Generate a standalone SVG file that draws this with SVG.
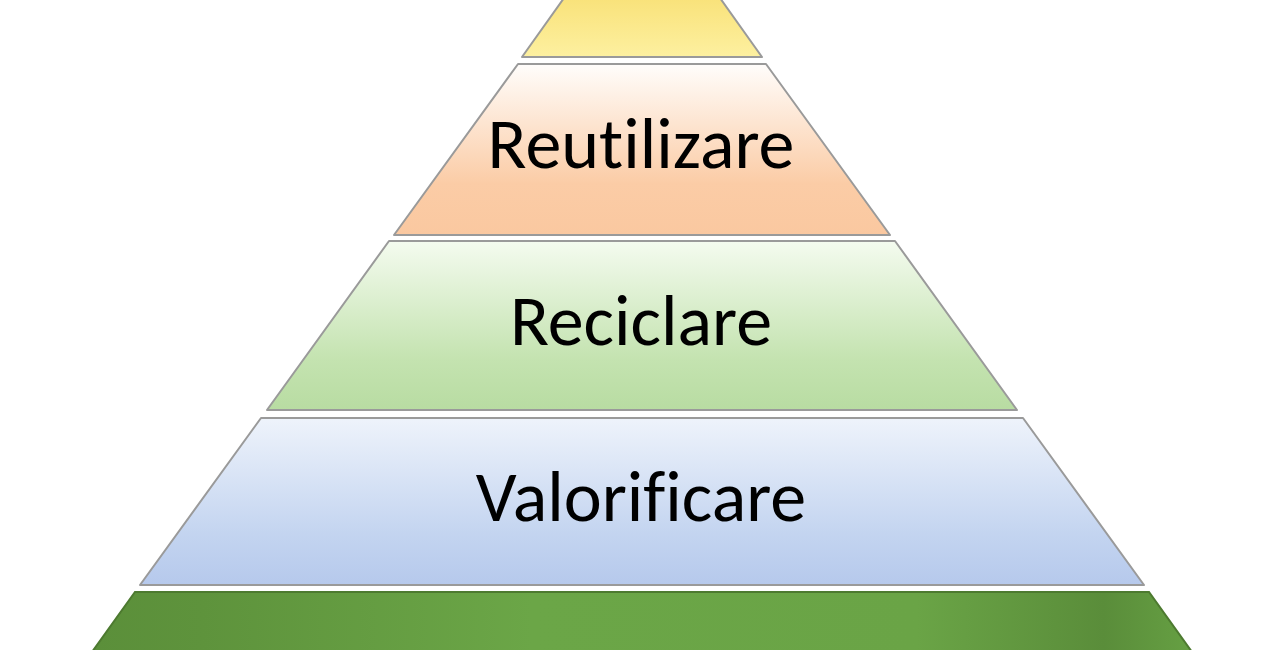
<svg xmlns="http://www.w3.org/2000/svg" width="1280" height="650" viewBox="0 0 1280 650">
<defs>
<linearGradient id="gy" x1="0" y1="0" x2="0" y2="1"><stop offset="0" stop-color="#f9e27a"/><stop offset="1" stop-color="#fdf0a0"/></linearGradient>
<linearGradient id="gp" x1="0" y1="0" x2="0" y2="1"><stop offset="0" stop-color="#fffdfb"/><stop offset="0.7" stop-color="#fbcca6"/><stop offset="1" stop-color="#fac8a0"/></linearGradient>
<linearGradient id="gg" x1="0" y1="0" x2="0" y2="1"><stop offset="0" stop-color="#f4fbef"/><stop offset="0.7" stop-color="#c4e3b0"/><stop offset="1" stop-color="#b8dca2"/></linearGradient>
<linearGradient id="gb" x1="0" y1="0" x2="0" y2="1"><stop offset="0" stop-color="#eef3fb"/><stop offset="0.7" stop-color="#c3d4f0"/><stop offset="1" stop-color="#b6c9ec"/></linearGradient>
<linearGradient id="gd" x1="0" y1="0" x2="1" y2="0"><stop offset="0" stop-color="#5b8f3a"/><stop offset="0.1" stop-color="#5e933c"/><stop offset="0.4" stop-color="#6ba647"/><stop offset="0.75" stop-color="#6aa446"/><stop offset="0.92" stop-color="#5a8d3a"/><stop offset="1" stop-color="#66a043"/></linearGradient>
<style>
.l{stroke:#9a9a9a;stroke-width:2;stroke-linejoin:round}
.t{font-family:Carlito,"Open Sans","Liberation Sans",sans-serif;font-size:72px;fill:#000;text-anchor:middle;font-variant-ligatures:none}
</style>
</defs>
<g id="top"><polygon class="l" points="564,-2 720,-2 762,57 522,57" fill="url(#gy)"/></g>
<g id="reutilizare"><polygon class="l" points="518,64 766,64 890,235 394,235" fill="url(#gp)"/><text class="t" x="641" y="168">Reutilizare</text></g>
<g id="reciclare"><polygon class="l" points="389,241 895,241 1017,410 267,410" fill="url(#gg)"/><text class="t" x="641" y="345">Reciclare</text></g>
<g id="valorificare"><polygon class="l" points="261,418 1023,418 1144,585 140,585" fill="url(#gb)"/><text class="t" x="641" y="521">Valorificare</text></g>
<g id="bottom"><polygon points="135,592 1149,592 1192,652 92,652" fill="url(#gd)" stroke="#4d7a30" stroke-width="2"/></g>
<g id="connectors"/>
</svg>
